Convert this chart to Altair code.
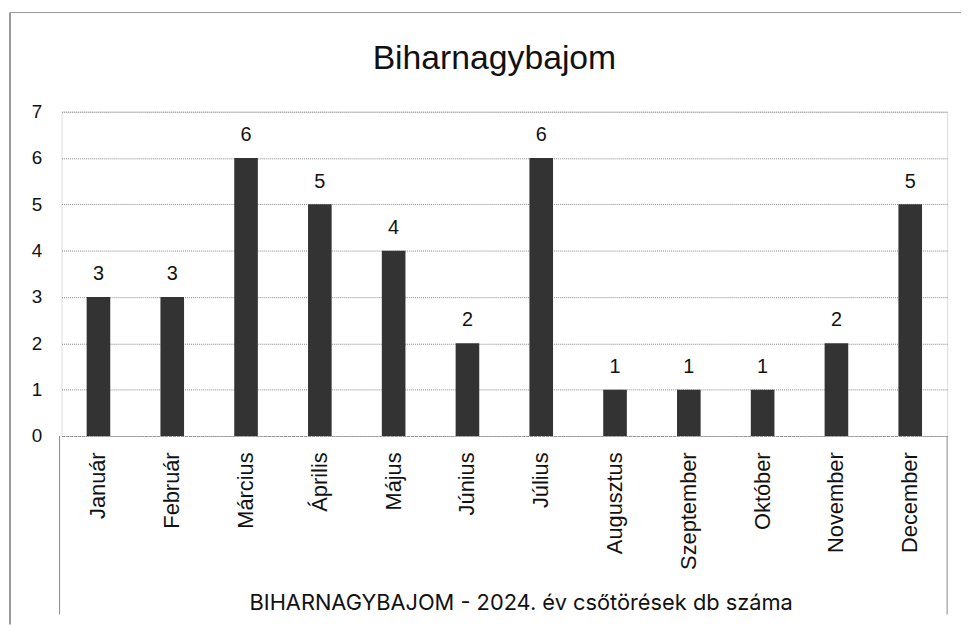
import altair as alt
import pandas as pd

months = ["Január", "Február", "Március", "Április", "Május", "Június",
          "Július", "Augusztus", "Szeptember", "Október", "November", "December"]
counts = [3, 3, 6, 5, 4, 2, 6, 1, 1, 1, 2, 5]
chart_title = ["Biharnagybajom"]

df = pd.DataFrame({"honap": months, "db": counts})

W, H = 893, 327
FONT = "Liberation Sans, Arial, sans-serif"

x = alt.X("honap:N", sort=months,
          scale=alt.Scale(paddingInner=0.68, paddingOuter=0.34),
          axis=alt.Axis(title="BIHARNAGYBAJOM - 2024. év csőtörések db száma",
                        labelAngle=-90, labelAlign="right", labelBaseline="middle",
                        labelFontSize=22, labelFont=FONT, labelColor="#111",
                        labelPadding=16, ticks=False,
                        domainColor="#999", domainDash=[2, 2], domainWidth=1,
                        titleFontSize=22, titleFont="Inter, Liberation Sans, sans-serif",
                        titleFontWeight="normal", titleColor="#111",
                        titleX=463, titleAlign="center",
                        titleY=168, titleBaseline="middle"))
y = alt.Y("db:Q", scale=alt.Scale(domain=[0, 7], nice=False),
          axis=alt.Axis(title=None, values=[0, 1, 2, 3, 4, 5, 6, 7],
                        labelFontSize=19, labelFont=FONT, labelColor="#111",
                        labelPadding=20, ticks=False, domain=False,
                        gridColor="#888", gridDash=[1, 1], gridWidth=1))

bars = alt.Chart(df).mark_bar(color="#333333").encode(x=x, y=y)
labels = alt.Chart(df).mark_text(baseline="bottom", dy=-13, fontSize=20,
                                 font=FONT, color="#111").encode(
    x=alt.X("honap:N", sort=months), y="db:Q", text="db:Q")

tdf = pd.DataFrame({"t": chart_title})
title = alt.Chart(tdf).mark_text(fontSize=34, font=FONT, color="#111",
                                 baseline="alphabetic", align="center").encode(
    x=alt.value(W / 2 - 10), y=alt.value(-43), text="t:N")

dummy = pd.DataFrame({"v": [0]})
border_left = alt.Chart(dummy).mark_rule(color="#777", strokeWidth=1.5).encode(
    x=alt.value(-52), y=alt.value(-100), y2=alt.value(H + 190))
border_top = alt.Chart(dummy).mark_rule(color="#999", strokeWidth=1).encode(
    x=alt.value(-52), x2=alt.value(W + 20), y=alt.value(-100))
edge_l = alt.Chart(dummy).mark_rule(color="#888", strokeWidth=1).encode(
    x=alt.value(-2), y=alt.value(H), y2=alt.value(H + 180))
edge_r = alt.Chart(dummy).mark_rule(color="#888", strokeWidth=1).encode(
    x=alt.value(W), y=alt.value(H), y2=alt.value(H + 180))

chart = alt.layer(bars, labels, title, border_left, border_top, edge_l, edge_r).properties(
    width=W, height=H,
    autosize=alt.AutoSizeParams(type="none"),
    padding={"left": 54, "top": 102, "right": 14, "bottom": 188},
).configure_view(stroke=None).configure(background="white")

chart.save("out.html", embed_options={"renderer": "svg", "actions": False})
